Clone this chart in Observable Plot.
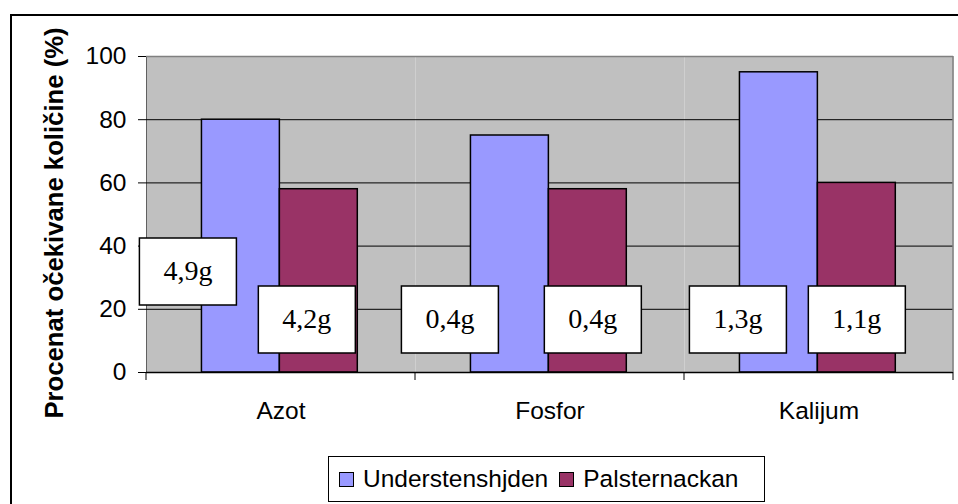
<!DOCTYPE html>
<html><head><meta charset="utf-8">
<script src="https://cdn.jsdelivr.net/npm/d3@7"></script>
<script src="https://cdn.jsdelivr.net/npm/@observablehq/plot@0.6"></script>
<style>
html,body{margin:0;padding:0;background:#fff;}
#wrap{position:relative;width:958px;height:504px;overflow:hidden;background:#fff;}
#chart{position:absolute;left:0;top:0;}
#border{position:absolute;left:10px;top:14px;width:990px;height:540px;border:2px solid #000;box-sizing:border-box;pointer-events:none;}
#legend{position:absolute;left:328px;top:456px;width:437px;height:46px;border:1px solid #000;box-sizing:border-box;background:#fff;display:flex;align-items:center;padding-left:10px;font-family:"Liberation Sans",Arial,sans-serif;font-size:24.5px;color:#000;white-space:nowrap;}
.sw{display:inline-block;width:13px;height:13px;border:1px solid #000;flex:none;}
#chart svg g[aria-label="y-axis label"]{font-weight:bold;font-size:25.7px;}
</style>
</head><body>
<div id="wrap">
  <div id="chart"></div>
  <div id="legend"></div>
  <div id="border"></div>
</div>
<script>
// ---- data ----
const categories = ["Azot", "Fosfor", "Kalijum"];
const series = ["Understenshjden", "Palsternackan"];
const understenshjden = [80, 75, 95];
const palsternackan = [58, 58, 60];
const labelsUnderstenshjden = ["4,9g", "0,4g", "1,3g"];
const labelsPalsternackan = ["4,2g", "0,4g", "1,1g"];
const yTicks = [0, 20, 40, 60, 80, 100];
const yLabel = "Procenat očekivane količine (%)";
const colors = ["#9999FF", "#993366"];

// ---- build tables ----
const values = [understenshjden, palsternackan];
const labelTexts = [labelsUnderstenshjden, labelsPalsternackan];
const bars = [];
const labels = [];
categories.forEach((c, i) => {
  series.forEach((s, j) => {
    bars.push({cat: c, series: s, value: values[j][i]});
    labels.push({cat: c, series: s, text: labelTexts[j][i]});
  });
});

// label box placement (manual offsets as in the original chart)
const labelLevel = [32, 16.8, 16.8, 16.8, 16.8, 16.8];
const labelDx = [-53, -12, -60, 5, -41, 0];

const boxSymbol = {
  draw(ctx) {
    ctx.moveTo(-48.5, -33.5);
    ctx.lineTo(48.5, -33.5);
    ctx.lineTo(48.5, 33.5);
    ctx.lineTo(-48.5, 33.5);
    ctx.closePath();
  }
};

const labelMarks = labels.flatMap((d, i) => {
  const row = [{...d, level: labelLevel[i]}];
  return [
    Plot.dot(row, {fx: "cat", x: "series", y: "level", symbol: boxSymbol, r: 10,
      fill: "white", stroke: "black", strokeWidth: 1.5, dx: labelDx[i]}),
    Plot.text(row, {fx: "cat", x: "series", y: "level", text: "text", dx: labelDx[i],
      fontFamily: "Liberation Serif, Times New Roman, serif", fontSize: 28, fill: "black"})
  ];
});

const plot = Plot.plot({
  width: 958,
  height: 450,
  marginLeft: 145,
  marginRight: 5,
  marginTop: 56,
  marginBottom: 78,
  style: {fontSize: "24.5px", fontFamily: "Liberation Sans, Arial, sans-serif", background: "none", color: "black"},
  fx: {domain: categories, padding: 0, label: null, tickSize: 0, tickPadding: 29, axis: "bottom"},
  x: {domain: series, paddingInner: 0, paddingOuter: 0.726, align: 0.49, round: false, axis: null},
  y: {domain: [0, 100], ticks: yTicks, tickSize: 8, tickPadding: 12, line: true,
      label: yLabel, labelAnchor: "center", labelOffset: 102, labelArrow: false},
  color: {domain: series, range: colors},
  marks: [
    Plot.frame({fill: "#C0C0C0", stroke: "none"}),
    Plot.ruleY(yTicks.filter(t => t > 0 && t < 100), {stroke: "#000", strokeWidth: 1}),
    Plot.ruleY([100], {stroke: "#808080", strokeWidth: 1.5}),
    Plot.barY(bars, {fx: "cat", x: "series", y: "value", fill: "series", stroke: "black", strokeWidth: 1.5}),
    Plot.ruleY([0], {stroke: "#000", strokeWidth: 1.5}),
    ...labelMarks
  ]
});
document.getElementById("chart").appendChild(plot);

// shift the axis title to sit where the original's is
const lg = plot.querySelector('g[aria-label="y-axis label"]');
if (lg) {
  const t = lg.getAttribute("transform") || "";
  lg.setAttribute("transform", ("translate(0,8.5) " + t).trim());
}

// category boundary ticks & right edge, from the library's scales
const fx = plot.scale("fx");
const ys = plot.scale("y");
const y0 = ys.apply(0), y100 = ys.apply(100);
const lastCat = categories[categories.length - 1];
const bounds = categories.map(c => fx.apply(c)).concat([fx.apply(lastCat) + fx.bandwidth]);
const svg = d3.select(plot);
const g = svg.append("g");
g.append("line").attr("x1", bounds[bounds.length - 1]).attr("x2", bounds[bounds.length - 1])
  .attr("y1", y100).attr("y2", y0).attr("stroke", "#808080").attr("stroke-width", 1.5);
bounds.forEach(b => {
  g.append("line").attr("x1", b).attr("x2", b).attr("y1", y0).attr("y2", y0 + 8)
    .attr("stroke", "#000").attr("stroke-width", 1);
});

// legend
const legend = document.getElementById("legend");
series.forEach((s, i) => {
  const sw = document.createElement("span");
  sw.className = "sw";
  sw.style.background = colors[i];
  sw.style.marginRight = "9px";
  if (i > 0) sw.style.marginLeft = "11px";
  const t = document.createElement("span");
  t.textContent = s;
  legend.appendChild(sw);
  legend.appendChild(t);
});
</script>
</body></html>
